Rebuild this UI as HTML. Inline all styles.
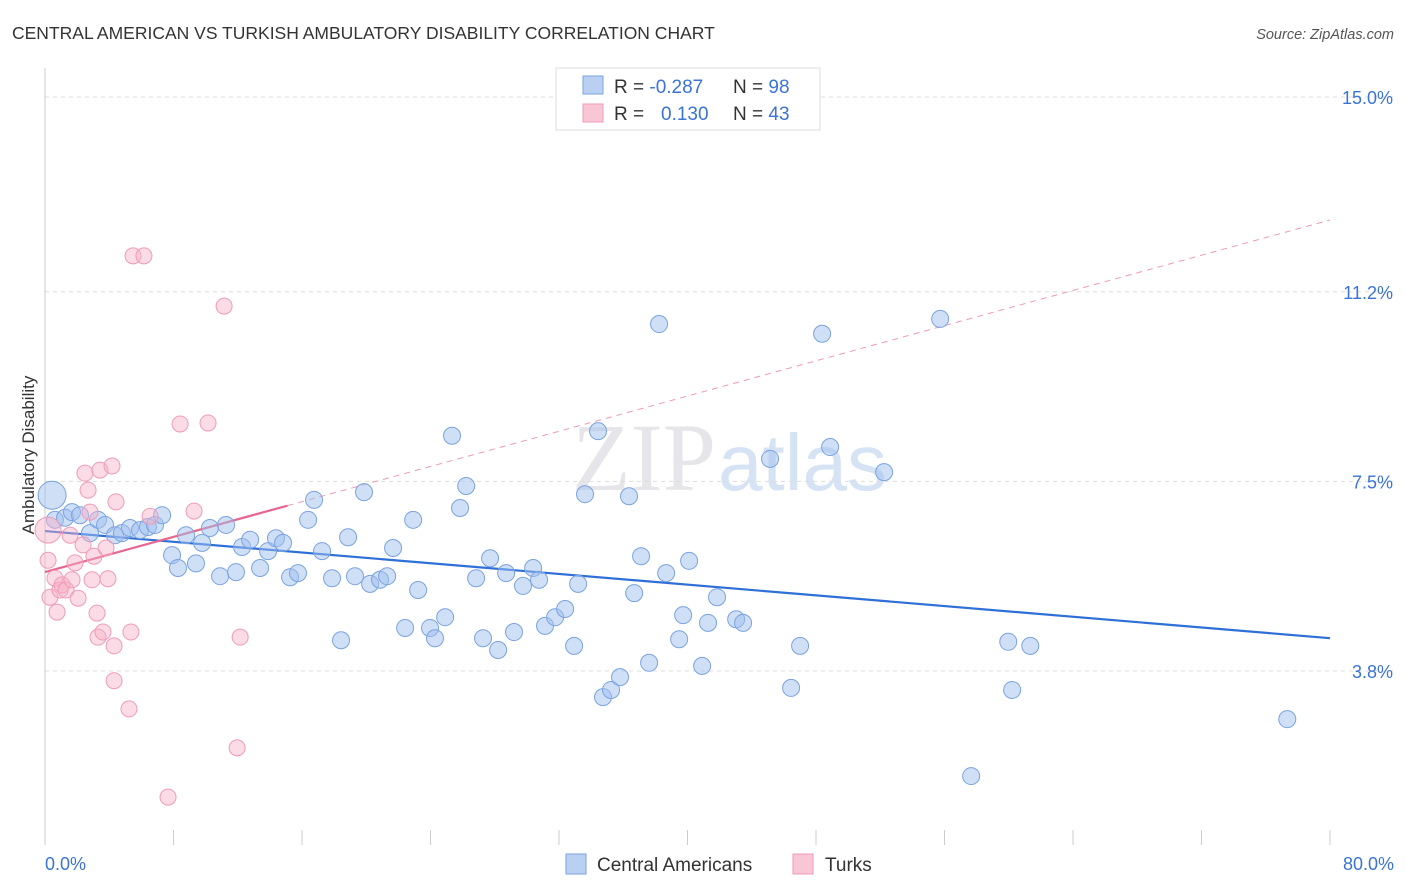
<!DOCTYPE html>
<html><head><meta charset="utf-8"><style>
body{margin:0;background:#fff;font-family:"Liberation Sans",sans-serif}
svg{display:block}
</style></head><body>
<svg id="chart" width="1406" height="892" xmlns="http://www.w3.org/2000/svg">
<text x="12" y="39" font-size="17.5" fill="#333">CENTRAL AMERICAN VS TURKISH AMBULATORY DISABILITY CORRELATION CHART</text>
<text x="1394" y="39" font-size="14.5" fill="#555" font-style="italic" text-anchor="end">Source: ZipAtlas.com</text>
<text x="716" y="490" font-size="96" fill="#e6e6ea" text-anchor="end" font-family="Liberation Serif,serif">ZIP</text>
<text x="718" y="490" font-size="80" fill="#d6e3f5">atlas</text>
<g id="grid"></g><g id="axes"></g><g id="trend"></g><g id="pts"></g>
<text transform="translate(34,455) rotate(-90)" font-size="17" fill="#333" text-anchor="middle">Ambulatory Disability</text>
<text x="45" y="870" font-size="18" fill="#3b73d6">0.0%</text>
<text x="1394" y="870" font-size="18" fill="#3b73d6" text-anchor="end">80.0%</text>
<g>
<rect x="556" y="68" width="264" height="62" fill="#fff" stroke="#ddd"/>
<rect x="583" y="76" width="20" height="18" fill="#b9d0f2" stroke="#7aa3e0"/>
<rect x="583" y="104" width="20" height="18" fill="#f9c6d6" stroke="#f09ab8"/>
<text x="614" y="93" font-size="19" fill="#333">R = <tspan fill="#3b73d6">-0.287</tspan><tspan x="733">N = </tspan><tspan fill="#3b73d6">98</tspan></text>
<text x="614" y="120" font-size="19" fill="#333">R = <tspan fill="#3b73d6" x="661">0.130</tspan><tspan x="733">N = </tspan><tspan fill="#3b73d6">43</tspan></text>
</g>
<g>
<rect x="566" y="854" width="20" height="20" fill="#b9d0f2" stroke="#7aa3e0"/>
<text x="597" y="871" font-size="19" fill="#333">Central Americans</text>
<rect x="793" y="854" width="20" height="20" fill="#f9c6d6" stroke="#f09ab8"/>
<text x="825" y="871" font-size="19" fill="#333">Turks</text>
</g>
</svg>
<script>
const yTicks=[15.0,11.2,7.5,3.8];
const yTickLabels=["15.0%","11.2%","7.5%","3.8%"];
const xTicks=[0,8,16,24,32,40,48,56,64,72,80];
const blueX=[0.44,0.62,1.25,1.68,2.18,2.80,3.30,3.74,4.36,4.79,5.29,5.92,6.41,6.85,7.29,7.91,8.28,8.78,9.40,9.78,10.27,10.90,11.27,11.89,12.27,12.77,13.39,13.89,14.38,14.82,15.26,15.75,16.38,16.75,17.25,17.87,18.43,18.87,19.30,19.86,20.24,20.86,21.30,21.67,22.42,22.92,23.23,23.97,24.28,24.91,25.34,25.84,26.22,26.84,27.27,27.71,28.21,28.71,29.20,29.76,30.39,30.76,31.13,31.76,32.38,32.94,33.19,33.62,34.43,34.74,35.24,35.80,36.36,36.68,37.11,37.61,38.23,38.67,39.48,39.73,40.10,40.91,41.28,41.84,43.03,43.46,45.14,46.45,47.01,48.38,48.88,52.24,55.73,57.66,59.97,60.21,61.34,77.34];
const blueY=[7.23,6.75,6.79,6.90,6.84,6.49,6.75,6.65,6.45,6.49,6.59,6.55,6.61,6.65,6.84,6.06,5.81,6.45,5.90,6.30,6.59,5.65,6.65,5.73,6.22,6.36,5.81,6.14,6.39,6.30,5.63,5.71,6.75,7.14,6.14,5.61,4.40,6.41,5.65,7.29,5.50,5.58,5.65,6.20,4.64,6.75,5.38,4.64,4.44,4.85,8.39,6.98,7.41,5.61,4.44,6.00,4.21,5.71,4.56,5.46,5.81,5.58,4.68,4.85,5.01,4.29,5.50,7.25,8.48,3.29,3.43,3.68,7.21,5.32,6.04,3.96,10.57,5.71,4.42,4.89,5.95,3.90,4.74,5.24,4.81,4.74,7.94,3.47,4.29,10.38,8.17,7.68,10.67,1.75,4.37,3.43,4.29,2.86];
const pinkX=[0.19,0.19,0.31,0.62,0.75,0.93,1.06,1.31,1.56,1.68,1.87,2.06,2.37,2.49,2.68,2.80,2.93,3.05,3.24,3.30,3.42,3.61,3.80,3.92,4.17,4.30,4.42,4.30,5.23,5.35,5.48,6.16,6.54,7.66,8.41,9.28,10.15,11.15,11.96,12.15];
const pinkY=[6.55,5.96,5.24,5.61,4.95,5.38,5.48,5.38,6.45,5.58,5.91,5.22,6.26,7.66,7.33,6.90,5.58,6.04,4.93,4.46,7.72,4.56,6.20,5.60,7.80,4.29,7.10,3.61,3.06,4.56,11.90,11.90,6.82,1.34,8.62,6.92,8.64,10.92,2.30,4.46];
const blueTrend=[6.53,4.44];
const pinkTrend=[5.73,12.6];
const pinkSolidEnd=15.1;
const NS="http://www.w3.org/2000/svg";
const X=v=>45+v*(1285/80);
const Y=v=>97+(15-v)*51.25;
function mk(tag,attrs,parent){const e=document.createElementNS(NS,tag);for(const k in attrs)e.setAttribute(k,attrs[k]);parent.appendChild(e);return e;}
const grid=document.getElementById('grid'),axes=document.getElementById('axes'),trend=document.getElementById('trend'),pts=document.getElementById('pts');
yTicks.forEach((t,i)=>{
  const l=mk('line',{x1:45,x2:1394,y1:Y(t),y2:Y(t),stroke:'#ddd','stroke-dasharray':'4,4'},grid);
  
  
  const tx=mk('text',{x:1393,y:Y(t)+7,'font-size':18,fill:'#3b73d6','text-anchor':'end'},grid);
  tx.textContent=yTickLabels[i];
  
  
});
const ax=mk('line',{x1:45,x2:45,y1:68,y2:845,stroke:'#ccc'},axes);


xTicks.forEach(t=>{
  const l=mk('line',{x1:X(t),x2:X(t),y1:830,y2:845,stroke:'#ccc'},axes);
  
  
});
const bl=mk('line',{x1:X(0),y1:Y(blueTrend[0]),x2:X(80),y2:Y(blueTrend[1]),stroke:'#2f6fd8','stroke-width':2.2},trend);


const pEnd=pinkTrend[0]+(pinkTrend[1]-pinkTrend[0])*pinkSolidEnd/80;
const pd=mk('line',{x1:X(pinkSolidEnd),y1:Y(pEnd),x2:X(80),y2:Y(pinkTrend[1]),stroke:'#ee9ab5','stroke-width':1,'stroke-dasharray':'6,5'},trend);


const ps=mk('line',{x1:X(0),y1:Y(pinkTrend[0]),x2:X(pinkSolidEnd),y2:Y(pEnd),stroke:'#e8678f','stroke-width':2.2},trend);


blueX.forEach((x,i)=>{
  const c=mk('circle',{cx:X(x),cy:Y(blueY[i]),r:i===0?14:8.5,fill:'rgba(160,192,238,0.5)',stroke:'#7aa3e0','stroke-width':1},pts);
  
  
});
pinkX.forEach((x,i)=>{
  const c=mk('circle',{cx:X(x),cy:Y(pinkY[i]),r:i===0?13:8,fill:'rgba(247,178,200,0.45)',stroke:'#f09ab8','stroke-width':1},pts);
  
  
});
</script>
</body></html>
